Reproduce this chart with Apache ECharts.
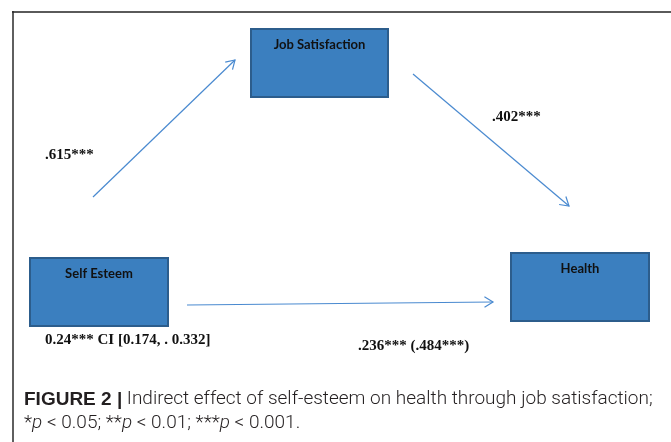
<!DOCTYPE html>
<html>
<head>
<meta charset="utf-8">
<script src="https://cdn.jsdelivr.net/npm/echarts@6/dist/echarts.min.js"></script>
<style>
html,body{margin:0;padding:0;background:#fff;}
#chart{width:671px;height:442px;}
</style>
</head>
<body>
<div id="chart"></div>
<script>
// Diagram nodes (layout units on a 671 x 442 canvas grid)
const nodeNames = ['Job Satisfaction', 'Self Esteem', 'Health'];
const nodeLeft  = [251, 30, 511];
const nodeTop   = [29, 258, 253];
const nodeW     = [137, 138, 138];
const nodeH     = [68, 68, 68];

// Paths (arrows)
const pathStartX = [93, 413, 187];
const pathStartY = [197, 74, 305];
const pathEndX   = [235, 569, 493];
const pathEndY   = [60, 206, 302];

// Coefficient labels
const coefTexts = ['.615***', '.402***', '0.24*** CI [0.174, . 0.332]', '.236*** (.484***)'];
const coefX = [45, 492, 45, 358];
const coefY = [155, 117, 340, 346];

const captionBold = 'FIGURE 2 |';
const captionLine1 = ' Indirect effect of self-esteem on health through job satisfaction;';

const boxData = nodeNames.map((n, i) => [nodeLeft[i], nodeTop[i], nodeLeft[i] + nodeW[i], nodeTop[i] + nodeH[i], n]);
const arrowData = pathStartX.map((x, i) => [x, pathStartY[i], pathEndX[i], pathEndY[i]]);
const labelData = coefTexts.map((t, i) => [coefX[i], coefY[i], t]);

const chart = echarts.init(document.getElementById('chart'), null, {renderer: 'canvas'});

const capFont = 'Roboto, Liberation Sans';
const option = {
  animation: false,
  backgroundColor: '#ffffff',
  grid: {left: 0, right: 0, top: 0, bottom: 0},
  xAxis: {type: 'value', min: 0, max: 671, show: false},
  yAxis: {type: 'value', min: 0, max: 442, inverse: true, show: false},
  graphic: [
    {type: 'line', shape: {x1: 12, y1: 12, x2: 671, y2: 12}, style: {stroke: '#5a5a5a', lineWidth: 2}},
    {type: 'line', shape: {x1: 13, y1: 11, x2: 13, y2: 442}, style: {stroke: '#2a2a2a', lineWidth: 1.5}},
    {type: 'text', left: 24, top: 390, style: {
      text: '{b|' + captionBold + '}{n|' + captionLine1 + '}',
      rich: {
        b: {fontFamily: 'Liberation Sans, Arial', fontWeight: 'bold', fontSize: 19, fill: '#231f20'},
        n: {fontFamily: capFont, fontWeight: 300, fontSize: 19, fill: '#231f20'}
      }
    }},
    {type: 'text', left: 24, top: 414, style: {
      text: '{n|*}{i|p}{n| < 0.05; **}{i|p}{n| < 0.01; ***}{i|p}{n| < 0.001.}',
      rich: {
        n: {fontFamily: capFont, fontWeight: 300, fontSize: 19, fill: '#231f20'},
        i: {fontFamily: capFont, fontWeight: 300, fontStyle: 'italic', fontSize: 19, fill: '#231f20'}
      }
    }}
  ],
  series: [
    {
      type: 'custom',
      coordinateSystem: 'cartesian2d',
      data: boxData,
      renderItem: function (params, api) {
        const p1 = api.coord([api.value(0), api.value(1)]);
        const p2 = api.coord([api.value(2), api.value(3)]);
        const name = boxData[params.dataIndex][4];
        return {
          type: 'group',
          children: [
            {type: 'rect', shape: {x: p1[0], y: p1[1], width: p2[0] - p1[0], height: p2[1] - p1[1]},
             style: {fill: '#3b7fbf', stroke: '#2c5d8c', lineWidth: 2}},
            {type: 'text', style: {text: name, x: (p1[0] + p2[0]) / 2, y: p1[1] + 16,
              textAlign: 'center', textVerticalAlign: 'middle',
              font: 'bold 13px Lato, "Open Sans", sans-serif', fill: '#111111'}}
          ]
        };
      }
    },
    {
      type: 'custom',
      coordinateSystem: 'cartesian2d',
      data: arrowData,
      renderItem: function (params, api) {
        const a = api.coord([api.value(0), api.value(1)]);
        const b = api.coord([api.value(2), api.value(3)]);
        const ang = Math.atan2(b[1] - a[1], b[0] - a[0]);
        const L = 10, spread = 0.55;
        const h1 = [b[0] - L * Math.cos(ang - spread), b[1] - L * Math.sin(ang - spread)];
        const h2 = [b[0] - L * Math.cos(ang + spread), b[1] - L * Math.sin(ang + spread)];
        const st = {stroke: '#4a8ad0', lineWidth: 1.2, fill: null};
        return {
          type: 'group',
          children: [
            {type: 'line', shape: {x1: a[0], y1: a[1], x2: b[0], y2: b[1]}, style: st},
            {type: 'polyline', shape: {points: [h1, b, h2]}, style: st}
          ]
        };
      }
    },
    {
      type: 'custom',
      coordinateSystem: 'cartesian2d',
      data: labelData,
      renderItem: function (params, api) {
        const p = api.coord([api.value(0), api.value(1)]);
        return {
          type: 'text',
          style: {text: labelData[params.dataIndex][2], x: p[0], y: p[1],
            textAlign: 'left', textVerticalAlign: 'middle',
            font: 'bold 15px "Liberation Serif", "Times New Roman", serif', fill: '#111111'}
        };
      }
    }
  ]
};
chart.setOption(option);
</script>
</body>
</html>
